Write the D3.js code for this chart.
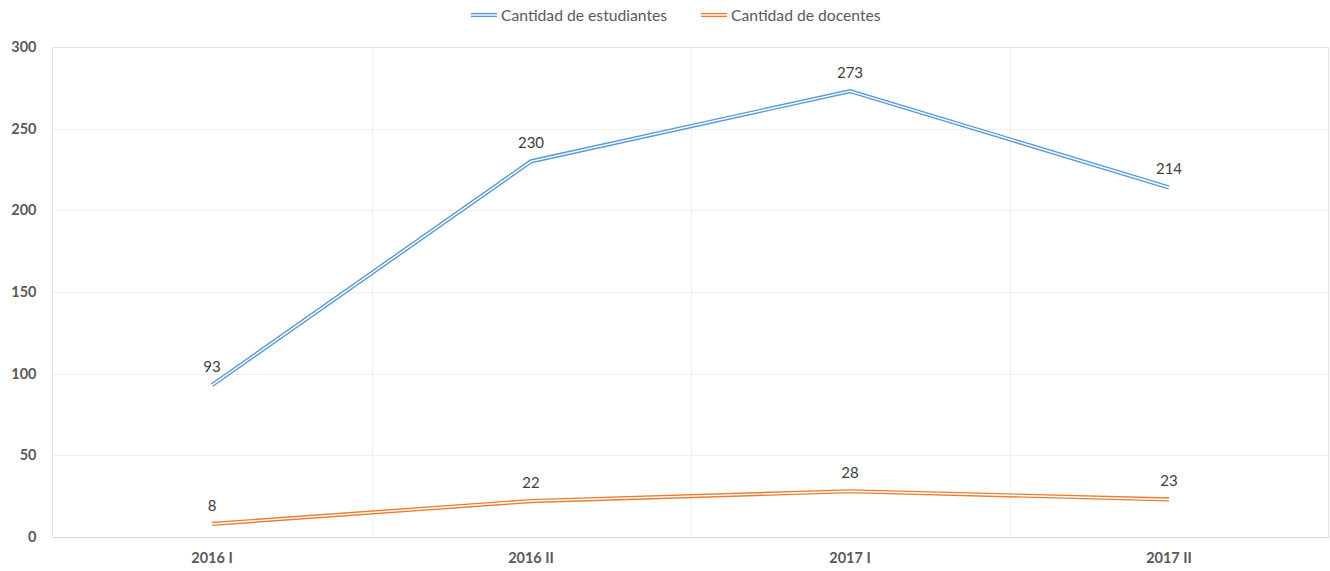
<!DOCTYPE html>
<html><head><meta charset="utf-8">
<script src="https://cdn.jsdelivr.net/npm/d3@7"></script>
<style>body{margin:0;background:#fff;} svg{display:block;}</style>
</head><body>
<svg id="c" width="1330" height="571"></svg>
<script>
const categories = ["2016 I", "2016 II", "2017 I", "2017 II"];
const estudiantes = [93, 230, 273, 214];
const docentes = [8, 22, 28, 23];
const seriesNames = ["Cantidad de estudiantes", "Cantidad de docentes"];
const yTicks = [0, 50, 100, 150, 200, 250, 300];

const colors = ["#5B9BD5", "#ED7D31"];
const svg = d3.select("#c");
const m = {left: 52.5, right: 1328.5, top: 47, bottom: 537};
const font = "Lato, 'Open Sans', sans-serif";

const x = d3.scaleBand().domain(categories).range([m.left, m.right]);
const y = d3.scaleLinear().domain([0, 300]).range([m.bottom, m.top]);

// horizontal gridlines
svg.append("g").selectAll("line").data(yTicks.slice(1)).join("line")
  .attr("x1", m.left).attr("x2", m.right)
  .attr("y1", d => Math.round(y(d)) + 0.5).attr("y2", d => Math.round(y(d)) + 0.5)
  .attr("stroke", "#efefef").attr("stroke-width", 1);
// vertical gridlines at category boundaries
svg.append("g").selectAll("line").data(categories.slice(1)).join("line")
  .attr("x1", d => Math.round(x(d)) + 0.5).attr("x2", d => Math.round(x(d)) + 0.5)
  .attr("y1", m.top).attr("y2", m.bottom)
  .attr("stroke", "#efefef").attr("stroke-width", 1);
// frame
svg.append("rect").attr("x", m.left).attr("y", m.top + 0.5)
  .attr("width", m.right - m.left).attr("height", m.bottom - m.top)
  .attr("fill", "none").attr("stroke", "#e3e3e3").attr("stroke-width", 1);
svg.append("line").attr("x1", m.left).attr("x2", m.right).attr("y1", m.bottom + 0.5).attr("y2", m.bottom + 0.5)
  .attr("stroke", "#d9d9d9").attr("stroke-width", 1.2);

// y axis labels
const yAxis = d3.axisLeft(y).tickValues(yTicks).tickSize(0).tickPadding(16);
const ya = svg.append("g").attr("transform", `translate(${m.left},0)`).call(yAxis);
ya.select(".domain").remove();
ya.selectAll("text").attr("font-family", font).attr("font-size", 14.5).attr("font-weight", "bold").attr("fill", "#595959");

// x axis labels
const xAxis = d3.axisBottom(x).tickSize(0).tickPadding(16);
const xa = svg.append("g").attr("transform", `translate(0,${m.bottom})`).call(xAxis);
xa.select(".domain").remove();
xa.selectAll("text").attr("font-family", font).attr("font-size", 14.5).attr("font-weight", "bold").attr("fill", "#595959");

const cx = d => x(d) + x.bandwidth() / 2;
const line = d3.line().x(d => cx(d.c)).y(d => y(d.v));
const allSeries = [estudiantes, docentes];
allSeries.forEach((vals, i) => {
  const pts = categories.map((c, j) => ({c, v: vals[j]}));
  svg.append("path").datum(pts).attr("d", line).attr("fill", "none")
    .attr("stroke", colors[i]).attr("stroke-width", 4.2).attr("stroke-linejoin", "miter");
  svg.append("path").datum(pts).attr("d", line).attr("fill", "none")
    .attr("stroke", "#fff").attr("stroke-width", 1.4).attr("stroke-linejoin", "miter");
  svg.append("g").selectAll("text").data(pts).join("text")
    .attr("x", d => cx(d.c)).attr("y", d => y(d.v) - 13)
    .attr("text-anchor", "middle").attr("font-family", font).attr("font-size", 15)
    .attr("fill", "#404040").text(d => d.v);
});

// legend
const legX = [471, 701];
seriesNames.forEach((n, i) => {
  const g = svg.append("g");
  g.append("line").attr("x1", legX[i]).attr("x2", legX[i] + 26).attr("y1", 15).attr("y2", 15)
    .attr("stroke", colors[i]).attr("stroke-width", 4.2);
  g.append("line").attr("x1", legX[i]).attr("x2", legX[i] + 26).attr("y1", 15).attr("y2", 15)
    .attr("stroke", "#fff").attr("stroke-width", 1.4);
  g.append("text").attr("x", legX[i] + 30).attr("y", 20.5).attr("font-family", font)
    .attr("font-size", 15.7).attr("fill", "#595959").text(n);
});
</script>
</body></html>
